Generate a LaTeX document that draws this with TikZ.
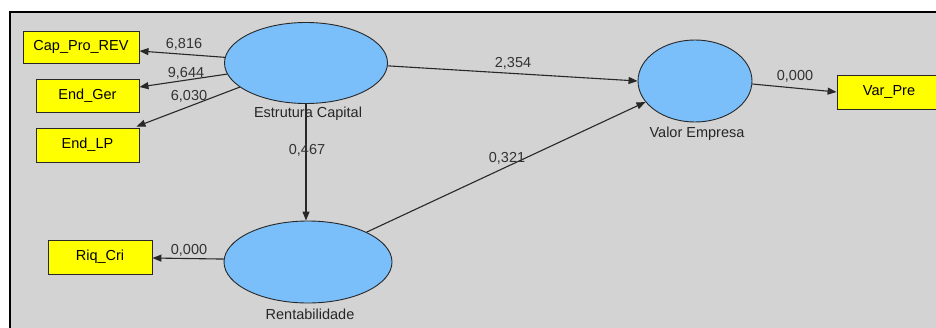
\documentclass[tikz,border=0pt]{standalone}
\usepackage{fontspec}
\setmainfont{Liberation Sans}
\usetikzlibrary{arrows.meta,shapes.geometric}
\definecolor{bggray}{RGB}{211,211,211}
\definecolor{lvblue}{RGB}{122,190,250}
\definecolor{mvyellow}{RGB}{255,255,0}
\definecolor{lnclr}{RGB}{40,40,40}
\begin{document}
\begin{tikzpicture}[x=1pt,y=-1pt,
  lv/.style={ellipse,draw=lnclr,line width=0.9pt,fill=lvblue,inner sep=0pt},
  mv/.style={rectangle,draw=lnclr,line width=0.9pt,fill=mvyellow,inner sep=0pt,font=\fontsize{14.5}{16}\selectfont},
  lvlabel/.style={font=\fontsize{14.5}{16}\selectfont,text=black!85,inner sep=0pt},
  coef/.style={font=\fontsize{14.5}{16}\selectfont,text=black!80,inner sep=0pt},
  path/.style={draw=lnclr,line width=1.1pt,-{Triangle[length=9pt,width=7pt]}}]
\useasboundingbox (0,0) rectangle (936,327);
\fill[white] (0,0) rectangle (936,327);
\fill[bggray] (10,12) rectangle (940,330);
\draw[line width=2pt] (10,330) -- (10,12) -- (940,12);
% latent variables
\node[lv,minimum width=163pt,minimum height=81pt] (ec) at (306,63) {};
\node[lv,minimum width=168pt,minimum height=82pt] (re) at (308,262) {};
\node[lv,minimum width=114pt,minimum height=82pt] (ve) at (695,81) {};
\node[lvlabel] (ecl) at (308,114) {Estrutura Capital};
\node[lvlabel] (rel) at (310,314) {Rentabilidade};
\node[lvlabel] (vel) at (697,134) {Valor Empresa};
% manifest variables
\node[mv,minimum width=116pt,minimum height=32pt] (cap) at (81,47) {Cap\_Pro\_REV};
\node[mv,minimum width=103pt,minimum height=33pt] (ger) at (87.5,96) {End\_Ger};
\node[mv,minimum width=103pt,minimum height=34pt] (lp) at (87.5,145) {End\_LP};
\node[mv,minimum width=104pt,minimum height=34pt] (riq) at (100,257) {Riq\_Cri};
\node[mv,minimum width=104pt,minimum height=34pt] (var) at (889,92) {Var\_Pre};
% paths
\draw[path] (ec.176) -- ([yshift=-4pt]cap.east);
\draw[path] (ec.188.6) -- ([yshift=9pt]ger.east);
\draw[path] (ec.200) -- ([xshift=-3pt,yshift=1pt]lp.north east);
\draw[path] (re.178.5) -- ([yshift=-1pt]riq.east);
\draw[path] (ec.358) -- (ve.180);
\draw[path] (re.27) -- (ve.203.6);
\draw[path] (ec.south) -- (ec.south |- re.north);
\draw[path] (ve.357) -- (var.west);
% coefficients
\node[coef] (c1) at (184,44) {6,816};
\node[coef] (c2) at (186,73) {9,644};
\node[coef] (c3) at (189,96) {6,030};
\node[coef] (c4) at (307,150) {0,467};
\node[coef] (c5) at (513,63) {2,354};
\node[coef] (c6) at (507,158) {0,321};
\node[coef] (c7) at (795,76) {0,000};
\node[coef] (c8) at (189,250) {0,000};
\end{tikzpicture}
\end{document}
